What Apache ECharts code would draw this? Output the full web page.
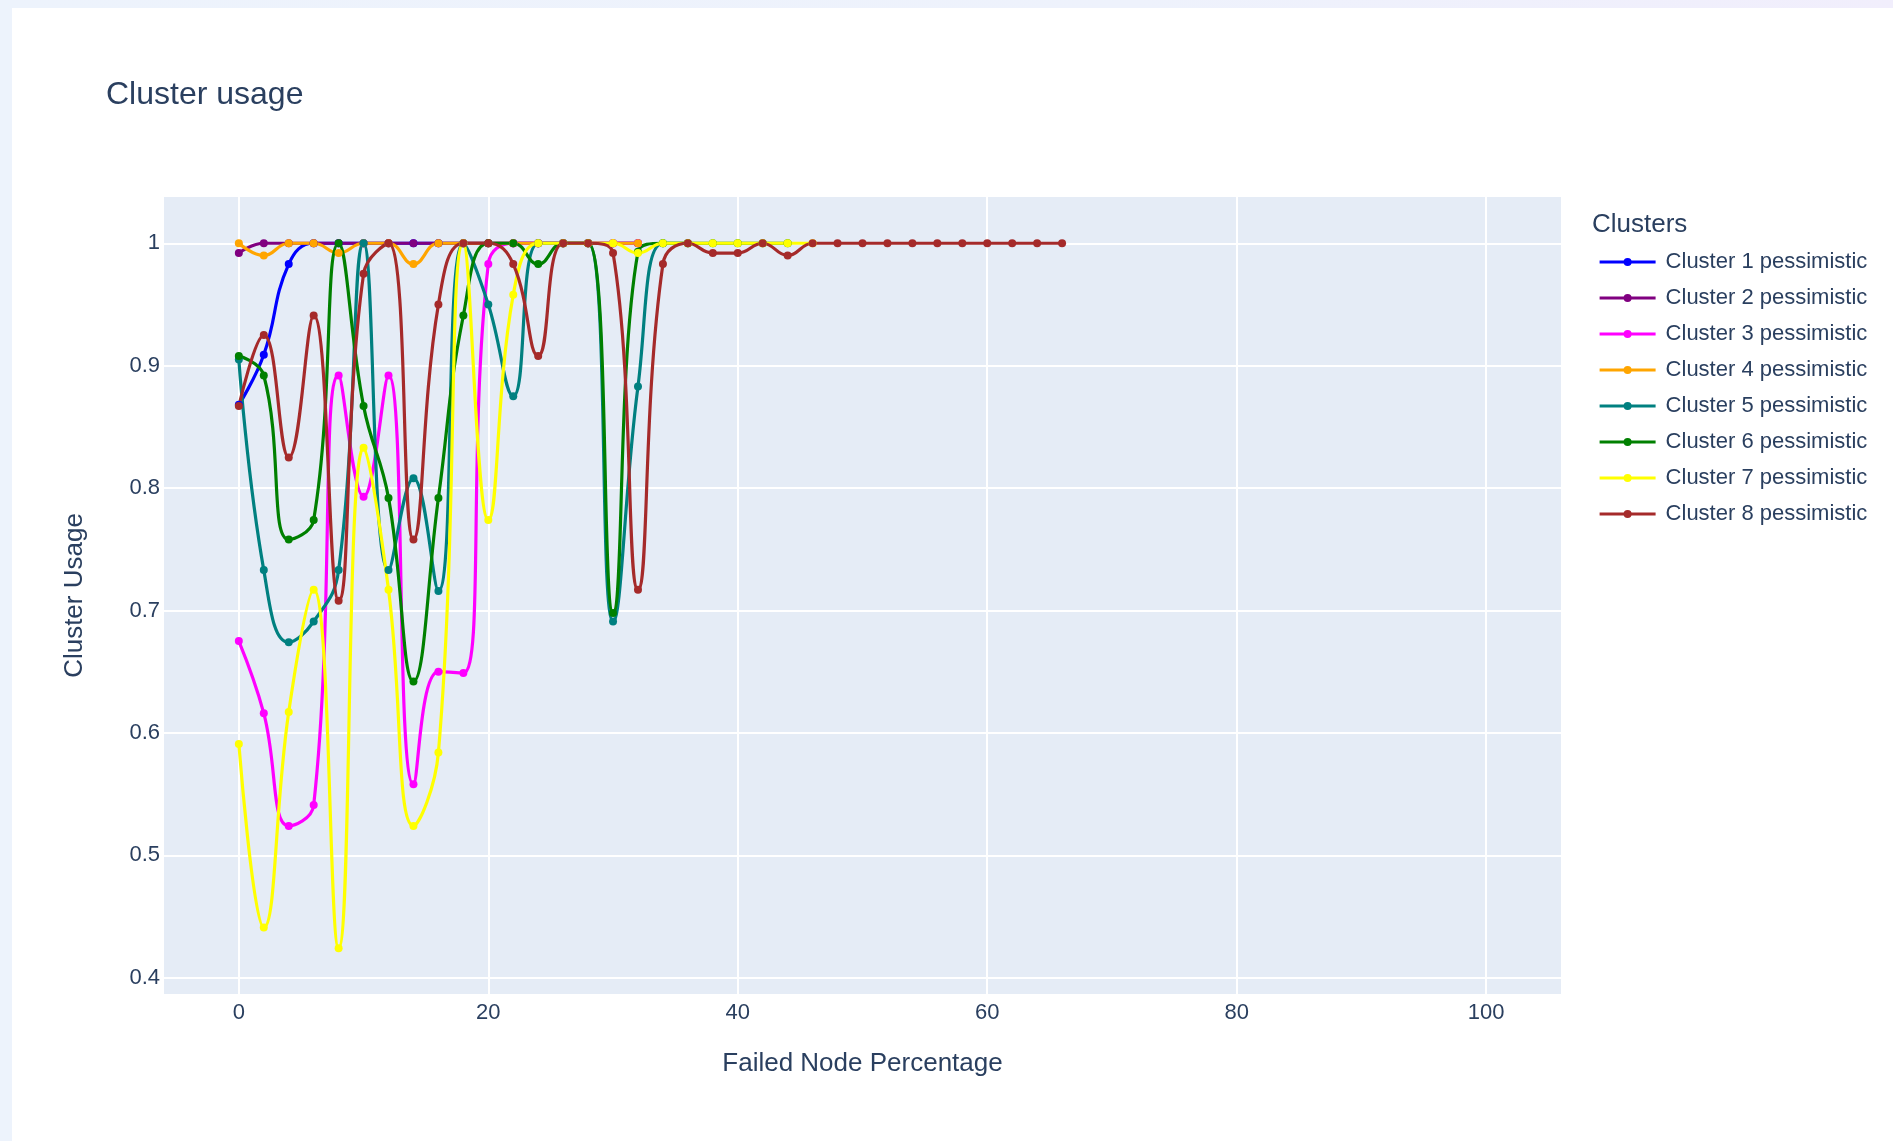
<!DOCTYPE html>
<html>
<head>
<meta charset="utf-8">
<title>Cluster usage</title>
<script src="https://cdn.jsdelivr.net/npm/echarts@6/dist/echarts.min.js"></script>
<style>
  html, body { margin: 0; padding: 0; width: 100%; height: 100%; overflow: hidden; }
  body { background: linear-gradient(90deg, #edf3fc 0%, #eef2fc 60%, #f1eefc 100%); }
  #card { position: absolute; left: 12px; top: 8px; right: 0; bottom: 0; background: #ffffff; }
  #chart { position: absolute; left: 0; top: 0; width: 1893px; height: 1141px; }
</style>
</head>
<body>
<div id="card"></div>
<div id="chart"></div>
<script>
// Failed node percentage steps (x values shared by every cluster)
const failedPct = [0, 2, 4, 6, 8, 10, 12, 14, 16, 18, 20, 22, 24, 26, 28, 30, 32, 34,
  36, 38, 40, 42, 44, 46, 48, 50, 52, 54, 56, 58, 60, 62, 64, 66];

// Usage per cluster, one value per step, starting at 0 %
const cluster1 = [0.868, 0.909, 0.983, 1, 1, 1, 1, 1, 1, 1, 1, 1, 1, 1, 1, 1, 1];
const cluster2 = [0.992, 1, 1, 1, 1, 1, 1, 1, 1, 1, 1, 1, 1, 1, 1, 1, 1];
const cluster3 = [0.675, 0.616, 0.524, 0.541, 0.892, 0.793, 0.892, 0.558, 0.650, 0.649,
  0.983, 1, 1, 1, 1, 1, 1];
const cluster4 = [1, 0.990, 1, 1, 0.992, 1, 1, 0.983, 1, 1, 1, 1, 1, 1, 1, 1, 1];
const cluster5 = [0.905, 0.733, 0.674, 0.691, 0.733, 1, 0.733, 0.808, 0.716, 1, 0.950,
  0.875, 1, 1, 1, 0.691, 0.883, 1, 1];
const cluster6 = [0.908, 0.892, 0.758, 0.774, 1, 0.867, 0.792, 0.642, 0.792, 0.941, 1,
  1, 0.983, 1, 1, 0.698, 0.993, 1, 1, 1, 1, 1, 1];
const cluster7 = [0.591, 0.441, 0.617, 0.717, 0.424, 0.833, 0.717, 0.524, 0.584, 1, 0.774,
  0.958, 1, 1, 1, 1, 0.992, 1, 1, 1, 1, 1, 1, 1];
const cluster8 = [0.867, 0.925, 0.825, 0.941, 0.708, 0.975, 1, 0.758, 0.950, 1, 1, 0.983,
  0.908, 1, 1, 0.992, 0.717, 0.983, 1, 0.992, 0.992, 1, 0.990, 1, 1, 1, 1, 1, 1, 1, 1, 1, 1, 1];

const seriesNames = ['Cluster 1 pessimistic', 'Cluster 2 pessimistic', 'Cluster 3 pessimistic',
  'Cluster 4 pessimistic', 'Cluster 5 pessimistic', 'Cluster 6 pessimistic',
  'Cluster 7 pessimistic', 'Cluster 8 pessimistic'];
const seriesValues = [cluster1, cluster2, cluster3, cluster4, cluster5, cluster6, cluster7, cluster8];
const seriesColors = ['#0000ff', '#800080', '#ff00ff', '#ffa500', '#008080', '#008000', '#ffff00', '#a52a2a'];

// Axis ticks
const xTicks = [0, 20, 40, 60, 80, 100];
const yTicks = [0.4, 0.5, 0.6, 0.7, 0.8, 0.9, 1];

const FONT = "'Liberation Sans', Arial, sans-serif";
const TEXT = '#2a3f5f';

const chart = echarts.init(document.getElementById('chart'), null, { renderer: 'canvas' });

const series = seriesNames.map((name, k) => ({
  name: name,
  type: 'line',
  smooth: 0.45,
  symbol: 'circle',
  symbolSize: 8,
  showSymbol: true,
  showAllSymbol: true,
  color: seriesColors[k],
  lineStyle: { width: 3.2, color: seriesColors[k] },
  itemStyle: { color: seriesColors[k] },
  emphasis: { disabled: true },
  data: seriesValues[k].map((v, i) => [failedPct[i], v])
}));

chart.setOption({
  animation: false,
  backgroundColor: 'transparent',
  textStyle: { fontFamily: FONT, color: TEXT },
  title: [
    {
      text: 'Cluster usage',
      left: 106, top: 79, padding: 0,
      textStyle: { fontFamily: FONT, fontSize: 32, fontWeight: 'normal', color: TEXT }
    },
    {
      text: 'Clusters',
      left: 1592, top: 212, padding: 0,
      textStyle: { fontFamily: FONT, fontSize: 26, fontWeight: 'normal', color: TEXT }
    }
  ],
  legend: {
    orient: 'vertical',
    left: 1598, top: 251, padding: 0,
    itemWidth: 56, itemHeight: 10, itemGap: 14,
    selectedMode: false,
    lineStyle: { width: 3.2 },
    textStyle: { fontFamily: FONT, fontSize: 22, color: TEXT, padding: [0, 0, 0, 5] },
    data: seriesNames
  },
  grid: {
    left: 164, right: 332, top: 197, bottom: 147,
    show: true, backgroundColor: '#e5ecf6', borderWidth: 0,
    containLabel: false
  },
  xAxis: {
    type: 'value',
    min: -6, max: 106,
    name: 'Failed Node Percentage',
    nameLocation: 'middle',
    nameGap: 57,
    nameTextStyle: { fontFamily: FONT, fontSize: 26, color: TEXT },
    axisLine: { show: false },
    axisTick: { show: false, customValues: xTicks },
    axisLabel: { customValues: xTicks, margin: 8, fontFamily: FONT, fontSize: 22, color: TEXT },
    splitLine: { show: true, lineStyle: { color: '#ffffff', width: 2 } }
  },
  yAxis: {
    type: 'value',
    min: 0.3867, max: 1.0378,
    name: 'Cluster Usage',
    nameLocation: 'middle',
    nameGap: 76,
    nameTextStyle: { fontFamily: FONT, fontSize: 26, color: TEXT },
    axisLine: { show: false },
    axisTick: { show: false, customValues: yTicks },
    axisLabel: {
      customValues: yTicks, margin: 4, fontFamily: FONT, fontSize: 22, color: TEXT,
      formatter: v => String(Math.round(v * 10) / 10)
    },
    splitLine: { show: true, lineStyle: { color: '#ffffff', width: 2 } }
  },
  series: series
});
</script>
</body>
</html>
